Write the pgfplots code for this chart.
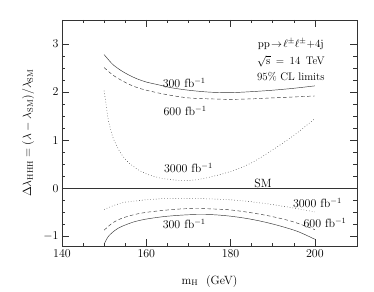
\documentclass[border=0pt]{standalone}
\usepackage{pgfplots}
\pgfplotsset{compat=1.18}
\begin{document}
\begin{tikzpicture}
\begin{axis}[
  scale only axis,
  width=295bp, height=226bp,
  xmin=140, xmax=210, ymin=-1.2, ymax=3.5,
  xtick={140,160,180,200}, ytick={-1,0,1,2,3},
  minor x tick num=3, minor y tick num=3,
  tick align=inside,
  major tick length=7bp, minor tick length=3.5bp,
  tick style={black!80, line width=0.5pt},
  axis line style={black!80, line width=0.5pt},
  font=\fontsize{12}{14}\selectfont,
  xlabel={m$_{\rm H}$ \ (GeV)},
  ylabel={$\Delta\lambda_{\rm HHH} = (\lambda - \lambda_{\rm SM})/\lambda_{\rm SM}$},
  xlabel style={at={(axis description cs:0.5,-0.155)}, anchor=center},
  ylabel style={at={(axis description cs:-0.115,0.5)}, anchor=center},
  clip=false,
]
% SM line
\addplot[black!80, line width=0.5pt] coordinates {(140,0) (210,0)};
% upper solid 300
\addplot[black!80, line width=0.45pt, smooth] coordinates {
(150,2.78) (152,2.58) (154,2.45) (156,2.35) (158,2.27) (160,2.21) (163,2.15) (166,2.09) (170,2.04) (175,2.00) (180,1.99) (185,2.01) (190,2.04) (195,2.08) (200,2.13)};
% upper dashed 600
\addplot[black!80, line width=0.45pt, smooth, dash pattern=on 3.5bp off 2.5bp] coordinates {
(150,2.51) (152,2.36) (154,2.25) (156,2.16) (158,2.09) (160,2.04) (163,1.98) (166,1.93) (170,1.88) (175,1.86) (180,1.85) (185,1.86) (190,1.88) (195,1.90) (200,1.92)};
% upper dotted 3000
\addplot[black!80, line width=0.5pt, smooth, dash pattern=on 0.6bp off 2.2bp] coordinates {
(150,2.03) (150.5,1.72) (151,1.42) (152,1.08) (153,0.88) (154,0.72) (155,0.61) (156,0.52) (158,0.39) (160,0.30) (163,0.22) (166,0.18) (169,0.16) (172,0.18) (175,0.23) (180,0.35) (185,0.53) (190,0.80) (195,1.10) (200,1.45)};
% lower dotted 3000
\addplot[black!80, line width=0.5pt, smooth, dash pattern=on 0.6bp off 2.2bp] coordinates {
(150,-0.44) (152.5,-0.35) (155,-0.29) (160,-0.24) (165,-0.21) (170,-0.21) (175,-0.22) (180,-0.24) (185,-0.28) (190,-0.34) (195,-0.41) (200,-0.49)};
% lower dashed 600
\addplot[black!80, line width=0.45pt, smooth, dash pattern=on 3.5bp off 2.5bp] coordinates {
(150,-0.87) (152,-0.72) (154,-0.63) (157,-0.55) (160,-0.50) (164,-0.46) (168,-0.43) (172,-0.42) (176,-0.43) (180,-0.45) (185,-0.51) (190,-0.59) (195,-0.70) (200,-0.86)};
% lower solid 300
\addplot[black!80, line width=0.45pt, smooth] coordinates {
(150,-1.16) (151,-1.0) (152.5,-0.88) (154,-0.80) (157,-0.70) (160,-0.64) (164,-0.59) (168,-0.56) (172,-0.545) (176,-0.55) (180,-0.58) (184,-0.63) (188,-0.70) (192,-0.79) (196,-0.90) (200,-1.06)};
% labels
\node at (axis cs:169,2.19) {300 fb$^{-1}$};
\node at (axis cs:169.2,1.60) {600 fb$^{-1}$};
\node at (axis cs:170,0.42) {3000 fb$^{-1}$};
\node at (axis cs:187.7,0.11) {SM};
\node at (axis cs:200.6,-0.31) {3000 fb$^{-1}$};
\node at (axis cs:202.4,-0.72) {600 fb$^{-1}$};
\node at (axis cs:169,-0.74) {300 fb$^{-1}$};
\node[inner sep=0pt, font=\fontsize{11}{13}\selectfont] at (axis cs:194.3,3.0) {$\mathrm{pp}\!\rightarrow\!\ell^{\pm}\ell^{\pm}\mathrm{+4j}$};
\node[inner sep=0pt, font=\fontsize{11}{13}\selectfont] at (axis cs:194.3,2.64) {$\sqrt{\rm s}$ \,=\, 14 \,TeV};
\node[inner sep=0pt, font=\fontsize{11}{13}\selectfont] at (axis cs:194.3,2.32) {95\% CL limits};
\end{axis}
\path (current axis.south west) ++(-62bp,-46bp);
\path (current axis.north east) ++(17bp,20bp);
\end{tikzpicture}
\end{document}
